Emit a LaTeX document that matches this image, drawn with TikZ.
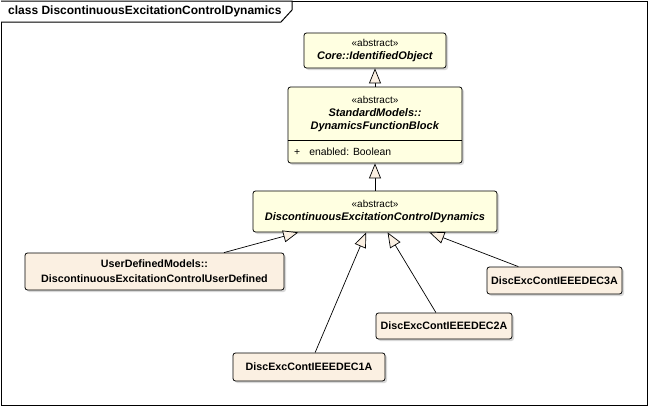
\documentclass[tikz,border=0pt]{standalone}
\usepackage{fontspec}
\setmainfont{Liberation Sans}
\usetikzlibrary{arrows.meta, shadows}
\definecolor{absfill}{RGB}{255,255,225}
\definecolor{leaffill}{RGB}{251,240,226}
\newcommand{\stereotxt}{{\fontsize{10}{12}\selectfont «abstract»}}

\begin{document}
\begin{tikzpicture}[x=1pt, y=-1pt,
  absbox/.style={draw, rounded corners=2.5pt, fill=absfill, line width=0.8pt,
    align=center, inner sep=0pt, font=\fontsize{11}{13}\selectfont,
    drop shadow={shadow xshift=2pt, shadow yshift=-2pt, fill=black!30}},
  leafbox/.style={absbox, fill=leaffill, font=\fontsize{10.7}{15}\selectfont\bfseries},
  gen/.style={line width=0.7pt, -{Triangle[length=15pt, width=12pt, fill=leaffill]}}]
\useasboundingbox (0,0) rectangle (649,407);

\draw[line width=1pt] (1,1) rectangle (647,405);
\draw[line width=1pt, fill=white] (1,1) -- (292,1) -- (292,10) -- (281,22) -- (1,22);
\node[anchor=west, inner sep=0pt, font=\fontsize{12}{14}\selectfont\bfseries] (title) at (8,11.5) {class DiscontinuousExcitationControlDynamics};

\node[absbox, minimum width=142, minimum height=35] (io) at (375,50.5)
  {\stereotxt\\\textbf{\textit{Core::IdentifiedObject}}};
\node[absbox, minimum width=174, minimum height=76] (dfb) at (375,125) {};
\node[align=center, inner sep=0pt, font=\fontsize{11}{13}\selectfont] (dfbname) at (375,114)
  {\stereotxt\\\textbf{\textit{StandardModels::}}\\\textbf{\textit{DynamicsFunctionBlock}}};
\draw[line width=0.8pt] (dfb.west |- 0,140) -- (dfb.east |- 0,140);
\node[anchor=west, inner sep=0pt, font=\fontsize{10.4}{12}\selectfont] (attr) at (294,152) {+\hspace{9pt}enabled: Boolean};
\node[absbox, minimum width=244, minimum height=41] (dcd) at (375,211.5)
  {\stereotxt\\\textbf{\textit{DiscontinuousExcitationControlDynamics}}};

\node[leafbox, minimum width=259, minimum height=37] (udm) at (154.5,271.5)
  {UserDefinedModels::\\DiscontinuousExcitationControlUserDefined};
\node[leafbox, minimum width=135, minimum height=27] (dec3) at (554.5,280.5) {DiscExcContIEEEDEC3A};
\node[leafbox, minimum width=136, minimum height=26] (dec2) at (444,326) {DiscExcContIEEEDEC2A};
\node[leafbox, minimum width=152, minimum height=28] (dec1) at (309,367) {DiscExcContIEEEDEC1A};

\draw[gen] (dfb) -- (io);
\draw[gen] (dcd) -- (dfb);
\draw[gen] (udm) -- (dcd);
\draw[gen] (dec1) -- (dcd);
\draw[gen] (dec2) -- (dcd);
\draw[gen] (dec3) -- (dcd);
\end{tikzpicture}
\end{document}
